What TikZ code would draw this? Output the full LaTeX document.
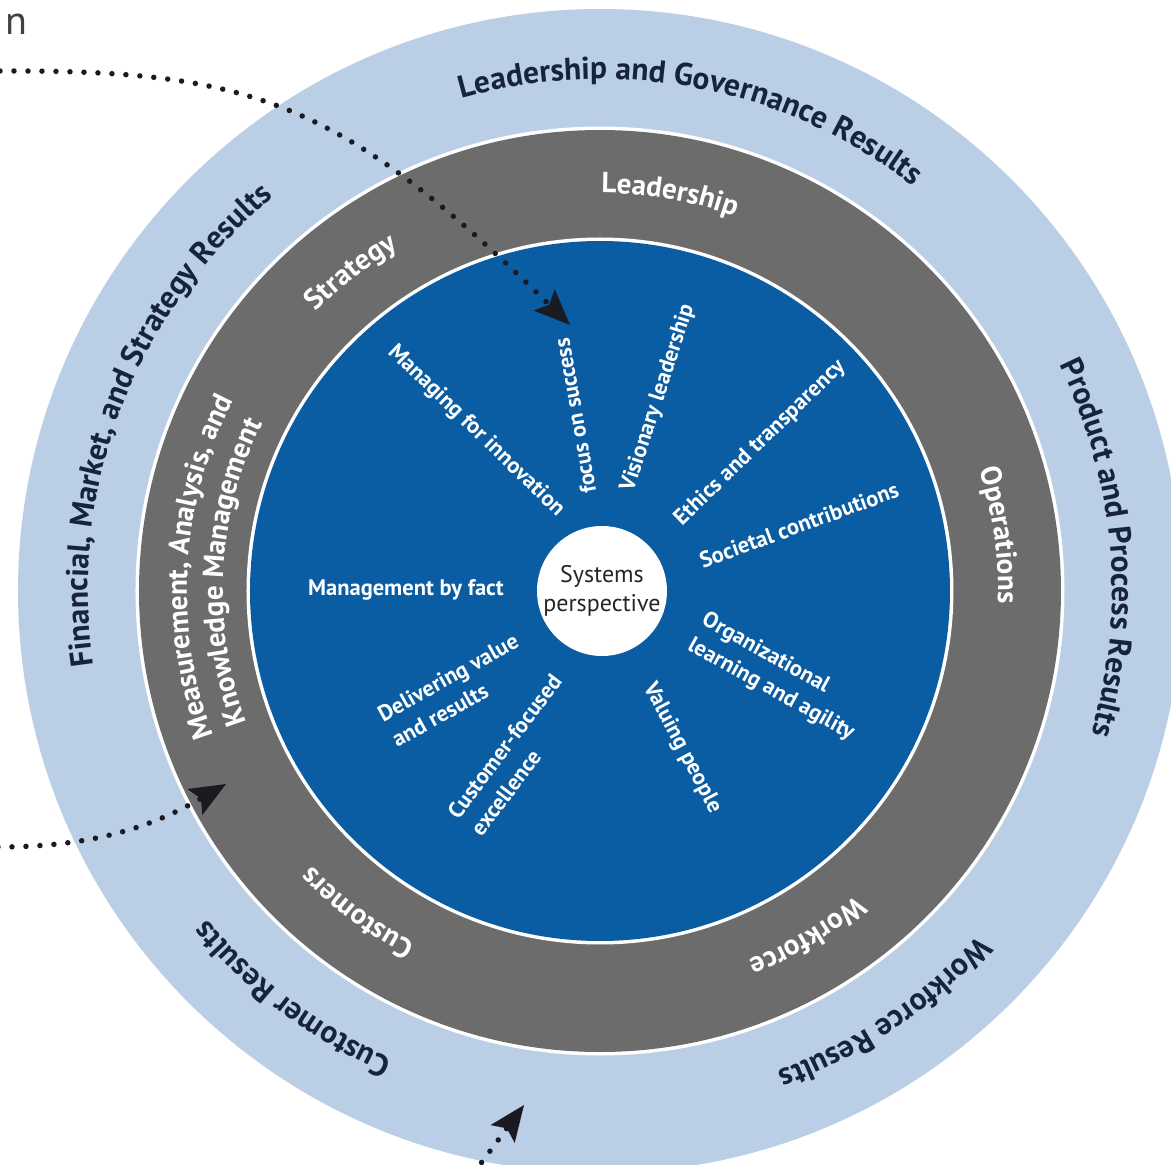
\documentclass[tikz,border=0pt]{standalone}
\usepackage{fontspec}
\setmainfont{PT Sans}
\usetikzlibrary{decorations.text, arrows.meta}
\definecolor{ringlight}{HTML}{BACEE5}
\definecolor{ringgray}{HTML}{6C6C6C}
\definecolor{coreblue}{HTML}{0A5CA3}
\definecolor{navytext}{HTML}{17233A}
\definecolor{arrowdark}{HTML}{1A1A22}
\newcommand\ringtext[4]{%
  \path[decorate, decoration={text along path, text align=center, text={|#3|#4}}]
    (#1+70:#2) arc[start angle=#1+70, end angle=#1-70, radius=#2];}
\begin{document}
\begin{tikzpicture}[x=1pt,y=1pt,
  corelabel/.style={text=white, font=\fontsize{22.5}{29}\selectfont\bfseries, align=left, inner sep=0pt},
  dotarrow/.style={draw=arrowdark, line width=5.5pt, line cap=round, dash pattern=on 0pt off 14pt,
     -{Stealth[length=36pt, width=30pt, inset=7pt, fill=arrowdark, line width=0pt]}}]
\useasboundingbox (-600,-574) rectangle (571,591);
\clip (-600,-574) rectangle (571,591);
% rings
\fill[ringlight] (0,0) circle[radius=582];
\fill[white] (0,0) circle[radius=464.5];
\fill[ringgray] (0,0) circle[radius=461];
\fill[white] (0,0) circle[radius=353.5];
\fill[coreblue] (0,0) circle[radius=350];
% outer ring labels
\def\outerfmt{\fontsize{31.5}{31}\selectfont\bfseries\color{navytext}}
\ringtext{79}{512}{\outerfmt}{Leadership and Governance Results}
\ringtext{5}{512}{\outerfmt}{Product and Process Results}
\ringtext{-56}{512}{\outerfmt}{Workforce Results}
\ringtext{-127}{512}{\outerfmt}{Customer Results}
\ringtext{159}{512}{\outerfmt}{Financial, Market, and Strategy Results}
% gray ring labels
\def\grayfmt{\fontsize{29}{29}\selectfont\bfseries\color{white}}
\ringtext{80}{398}{\grayfmt}{Leadership}
\ringtext{128}{398}{\grayfmt}{Strategy}
\ringtext{8}{398}{\grayfmt}{Operations}
\ringtext{-59}{398}{\grayfmt}{Workforce}
\ringtext{-127}{398}{\grayfmt}{Customers}
\ringtext{176.5}{413}{\grayfmt}{Measurement, Analysis, and}
\ringtext{177}{377}{\grayfmt}{Knowledge Management}
% core values
\node[corelabel, rotate=-44] (innov) at (-124,160) {Managing for innovation};
\node[corelabel, rotate=100] (focus) at (-25,175) {focus on success};
\node[corelabel, rotate=72] (vision) at (58,193) {Visionary leadership};
\node[corelabel, rotate=44] (ethics) at (160,148) {Ethics and transparency};
\node[corelabel, rotate=20] (societal) at (199,66) {Societal contributions};
\node[corelabel, rotate=-29] (orglearn) at (178,-86) {Organizational\\learning and agility};
\node[corelabel, rotate=-62] (valuing) at (82,-157) {Valuing people};
\node[corelabel, rotate=53] (custexc) at (-84,-164) {Customer-focused\\excellence};
\node[corelabel, rotate=29] (deliver) at (-145,-99) {Delivering value\\and results};
\node[corelabel] (mbf) at (-194,1) {Management by fact};
\node[circle, fill=white, minimum size=130pt, inner sep=0pt, align=center,
      font=\fontsize{24}{29}\selectfont, text=black!85] (sys) at (2,0) {Systems\\perspective};
% cut-off text at top left
\node[anchor=base east, font=\fontsize{40}{40}\selectfont, text=black!75, inner sep=0pt] (frag) at (-572,556) {n};
% dotted arrows
\coordinate (a1s) at (-600,520);
\coordinate (a1e) at (-30,266);
\coordinate (a2s) at (-602,-256);
\coordinate (a2e) at (-374,-193);
\coordinate (a3s) at (-135,-594);
\coordinate (a3e) at (-76,-514);
\draw[dotarrow] (a1s) .. controls (-350,521) and (-260,491) .. (a1e);
\draw[dotarrow] (a2s) .. controls (-510,-256) and (-450,-237) .. (a2e);
\draw[dotarrow] (a3s) -- (a3e);
\end{tikzpicture}
\end{document}
